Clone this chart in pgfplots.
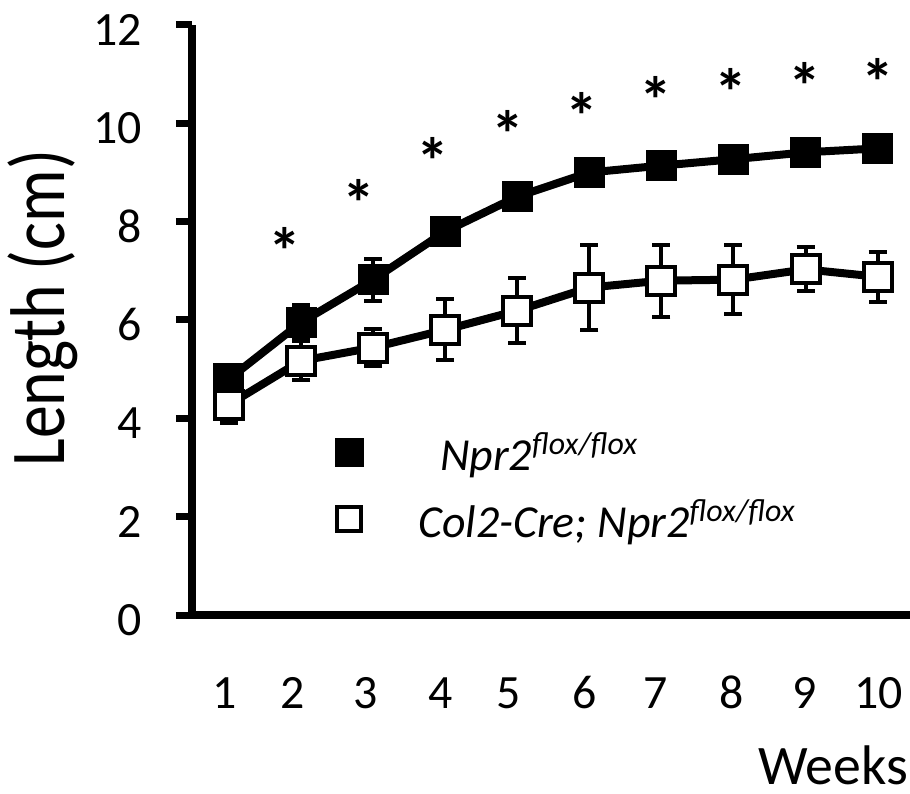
\documentclass[border=0pt]{standalone}
\usepackage{fontspec}
\setmainfont{Carlito}
\usepackage{pgfplots}
\usepackage{pgfplotstable}
\pgfplotsset{compat=1.18}

% Npr2 flox/flox (filled)
\pgfplotstableread{
x   y     e
1   4.80  0.20
2   5.95  0.36
3   6.82  0.43
4   7.80  0.15
5   8.51  0.15
6   9.00  0.15
7   9.14  0.12
8   9.27  0.12
9   9.41  0.12
10  9.49  0.12
}\flox
% Col2-Cre; Npr2 flox/flox (open)
\pgfplotstableread{
x   y     e
1   4.28  0.37
2   5.17  0.40
3   5.44  0.38
4   5.80  0.62
5   6.19  0.66
6   6.66  0.87
7   6.80  0.73
8   6.82  0.70
9   7.03  0.45
10  6.88  0.51
}\cre
% significance stars
\pgfplotstableread{
x     y
1.78  7.68
2.80  8.66
3.83  9.51
4.87  10.06
5.90  10.43
6.93  10.75
7.97  10.92
8.99  11.04
10.01 11.12
}\stars

\newcommand\sups[1]{\raisebox{16bp}{\fontsize{32}{32}\selectfont\itshape #1}}

\begin{document}
\begin{tikzpicture}
\path[use as bounding box] (-192bp,-179bp) rectangle (718bp,615bp);
\begin{axis}[
    scale only axis,
    width=718bp, height=590bp,
    xmin=0.487, xmax=10.45,
    ymin=0, ymax=12,
    clip=false,
    axis x line=bottom, axis y line=left,
    axis line style={line width=8bp, -},
    xtick={0.94,1.89,2.90,3.93,4.88,5.94,6.92,7.98,8.99,10.01},
    xticklabels={1,2,3,4,5,6,7,8,9,10},
    ytick={0,2,...,12},
    xtick style={draw=none},
    ytick style={line width=7bp, black},
    tick align=outside,
    major tick length=16bp,
    /pgf/number format/assume math mode=true,
    ticklabel style={font=\fontsize{48}{48}\selectfont, inner sep=0pt},
    xticklabel style={anchor=base, yshift=-77bp},
    yticklabel style={anchor=east, xshift=-34bp, yshift=-5bp},
    xlabel={Weeks},
    xlabel style={font=\fontsize{56}{56}\selectfont, at={(axis description cs:1,0)}, anchor=base east, inner sep=0pt, xshift=-2bp, yshift=-169bp},
    ylabel={\scalebox{1}[1.18]{Length (cm)}},
    ylabel style={font=\fontsize{66}{66}\selectfont, at={(axis description cs:-0.1769,0.52)}, anchor=base, inner sep=0pt},
    legend style={draw=none, fill=none, at={(axis description cs:0.199,0.309)}, anchor=north west,
        inner sep=0pt, row sep=27bp, column sep=0pt, nodes={inner sep=0pt},
        font=\fontsize{46}{46}\selectfont\itshape},
    legend cell align=left,
    legend image code/.code={\draw[#1] plot coordinates {(14bp,0bp)}; \path[draw=none, fill=none] (0bp,0bp) -- (83bp,0bp);},
]
\addlegendimage{only marks, mark=square*, mark size=14bp, mark options={fill=black, draw=black, line width=1bp}}
\addlegendentry{\hspace*{22bp}Npr2\sups{flox/flox}}
\addlegendimage{only marks, mark=square*, mark size=12bp, mark options={fill=white, draw=black, line width=4bp}}
\addlegendentry{Col2-Cre; Npr2\sups{flox/flox}}

\addplot[black, line width=8bp, mark=square*, mark size=14.5bp,
    mark options={fill=black, draw=black, line width=2bp},
    error bars/.cd, y dir=both, y explicit,
    error bar style={line width=4bp, black},
    error mark options={rotate=90, line width=4bp, mark size=9bp, black}]
    table[x=x, y=y, y error=e] {\flox};
\addplot[black, line width=8bp, mark=square*, mark size=14bp,
    mark options={fill=white, draw=black, line width=4bp},
    error bars/.cd, y dir=both, y explicit,
    error bar style={line width=4bp, black},
    error mark options={rotate=90, line width=4bp, mark size=9bp, black}]
    table[x=x, y=y, y error=e] {\cre};
\addplot[draw=none, mark=none, forget plot,
    nodes near coords={\fontsize{66}{66}\selectfont\bfseries *},
    every node near coord/.style={anchor=center, inner sep=0pt, yshift=-14bp}]
    table[x=x, y=y] {\stars};
\end{axis}
\end{tikzpicture}
\end{document}
